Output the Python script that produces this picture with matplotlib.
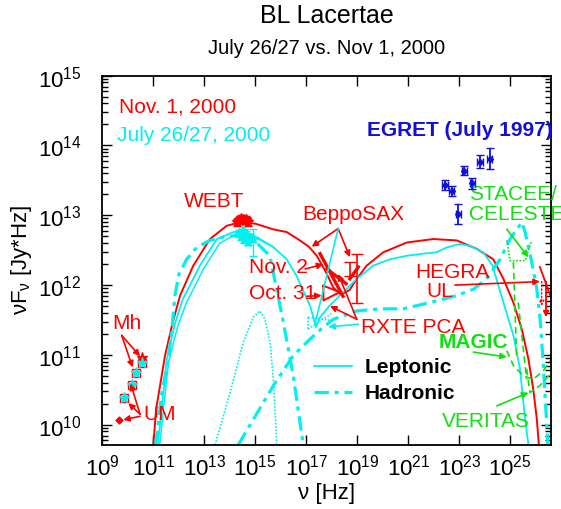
import numpy as np
import matplotlib
matplotlib.use('Agg')
import matplotlib.pyplot as plt
from matplotlib.ticker import FixedLocator, LogLocator, NullLocator, FuncFormatter, NullFormatter

plt.rcParams['font.family'] = ['Liberation Sans', 'DejaVu Sans']
plt.rcParams['mathtext.fontset'] = 'custom'
plt.rcParams['mathtext.rm'] = 'Liberation Sans'
plt.rcParams['mathtext.it'] = 'Liberation Sans:italic'
plt.rcParams['mathtext.bf'] = 'Liberation Sans:bold'

RED = '#ff0000'
CYAN = '#00f0f0'
BLUE = '#1010d8'
GREEN = '#10e010'

# ---------------- data (log10 nu [Hz], log10 nuFnu [Jy*Hz]) ----------------
# Nov 1, 2000 leptonic model (red solid)
red_lognu = [11.00, 11.11, 11.46, 11.75, 12.05, 12.57, 13.22, 13.88, 14.40, 15.00, 15.69, 16.23,
             16.75, 17.10, 17.41, 17.75, 18.05, 18.35, 18.70, 18.98, 19.37, 20.02, 20.94, 21.98,
             22.90, 23.68, 24.33, 24.73, 25.12, 25.45, 25.71, 25.90, 26.04, 26.12]
red_logf = [9.71, 10.22, 10.99, 11.45, 11.85, 12.28, 12.66, 12.85, 12.90, 12.88, 12.80, 12.76,
            12.64, 12.55, 12.42, 12.20, 11.97, 11.86, 11.93, 12.09, 12.28, 12.47, 12.61, 12.66,
            12.64, 12.52, 12.37, 12.09, 11.75, 11.37, 10.94, 10.51, 10.08, 9.71]

# July 26/27 leptonic model (cyan solid)
lep_lognu = [11.18, 11.53, 11.85, 12.16, 12.83, 13.49, 14.14, 14.66, 14.92, 15.69, 16.23, 16.62,
             17.15, 17.38, 17.54, 17.90, 18.32, 18.98, 19.63, 20.28, 20.94, 21.59, 22.11, 22.51,
             23.03, 23.42, 23.94, 24.30, 24.73, 25.12, 25.38, 25.58, 25.71]
lep_logf = [9.71, 10.94, 11.45, 11.80, 12.28, 12.66, 12.76, 12.76, 12.70, 12.55, 12.37, 12.13,
            11.70, 11.40, 11.54, 11.70, 11.85, 12.09, 12.28, 12.37, 12.42, 12.45, 12.47, 12.54,
            12.59, 12.56, 12.47, 12.28, 11.75, 11.28, 10.80, 10.08, 9.71]

# second leptonic synchrotron curve (cyan solid, close to the first)
lep2_lognu = [11.25, 11.60, 11.95, 12.30, 12.95, 13.60, 14.20, 14.70, 15.10, 15.69]
lep2_logf = [9.71, 10.90, 11.40, 11.75, 12.22, 12.60, 12.72, 12.74, 12.68, 12.55]

# July hadronic model: synchrotron part (cyan dash-dot)
had1_lognu = [11.09, 11.34, 11.60, 11.75, 11.85, 12.00, 12.31, 12.70, 13.22, 13.88, 14.40, 14.99,
              15.57, 16.10, 16.49, 16.88]
had1_logf = [9.71, 10.47, 10.95, 11.45, 11.85, 12.15, 12.37, 12.54, 12.64, 12.70, 12.71, 12.63,
             12.42, 11.47, 10.70, 9.71]

# July hadronic model: high-energy part (cyan dash-dot)
had2_lognu = [14.33, 15.71, 16.49, 17.41, 18.06, 18.98, 19.89, 20.80, 21.85, 22.90, 23.55, 24.07,
              24.60, 24.99, 25.45, 25.58, 25.84, 26.04, 26.17, 26.29, 26.40, 26.48]
had2_logf = [9.71, 10.56, 10.99, 11.32, 11.51, 11.63, 11.66, 11.66, 11.75, 11.85, 11.94, 12.09,
             12.37, 12.66, 12.90, 12.76, 12.33, 11.94, 11.51, 10.89, 10.18, 9.71]

# thermal component (cyan dotted)
th_lognu = [13.42, 14.01, 14.53, 14.92, 15.18, 15.38, 15.58, 15.72, 15.84]
th_logf = [9.71, 10.46, 11.18, 11.54, 11.63, 11.51, 11.18, 10.60, 9.71]

# WEBT optical data
webt_nov_lognu = [14.30, 14.38, 14.45, 14.52, 14.58, 14.65, 14.72]
webt_nov_logf = [12.90, 12.93, 12.96, 12.95, 12.92, 12.94, 12.90]
webt_jul_lognu = [14.35, 14.42, 14.50, 14.57, 14.64, 14.72, 14.80, 14.92]
webt_jul_logf = [12.74, 12.70, 12.78, 12.66, 12.72, 12.62, 12.68, 12.66]
webt_jul_errlo = [0.05, 0.05, 0.05, 0.05, 0.05, 0.05, 0.05, 0.24]
webt_jul_errhi = [0.05, 0.05, 0.05, 0.05, 0.05, 0.05, 0.05, 0.14]

# radio data (Metsahovi / UMRAO)
radio_nov_lognu = [10.55]
radio_nov_logf = [10.96]
radio_um_nov_lognu = [9.67]
radio_um_nov_logf = [10.07]
radio_jul_lognu = [10.55, 10.32, 10.15, 9.86]
radio_jul_logf = [10.88, 10.74, 10.57, 10.38]

# EGRET (July 1997)
egret_lognu = [22.44, 22.70, 22.96, 23.20, 23.51, 23.81, 24.20]
egret_logf = [13.43, 13.35, 13.02, 13.64, 13.46, 13.77, 13.81]
egret_err = [0.07, 0.07, 0.14, 0.06, 0.08, 0.09, 0.15]

# BeppoSAX high energy points (Nov)
sax_lognu = [18.71, 18.98]
sax_logf = [12.23, 12.10]
sax_err = [0.10, 0.35]

# X-ray spectra (segments)
sax_nov_spec = [([17.54, 18.44], [12.45, 11.84]), ([17.81, 18.56], [12.23, 12.02]),
                ([18.71, 19.04], [12.09, 12.26])]
rxte_oct_tri = ([17.67, 17.67, 18.32, 17.67], [11.99, 11.78, 11.90, 11.99])
xray_jul_spec = [([17.07, 18.05], [11.37, 11.61]), ([17.07, 18.05], [11.54, 11.49]),
                 ([17.07, 17.07], [11.37, 11.54])]

# HEGRA upper limit
hegra_line = ([26.16, 26.62], [12.26, 11.80])
hegra_dot_lognu = 26.23
hegra_dot_logf = (12.09, 11.66)
hegra_sol_lognu = 26.40
hegra_sol_logf = (12.09, 11.50)

# STACEE/CELESTE and sensitivities
stacee_lognu = [24.86, 24.99, 25.58, 25.84]
stacee_logf = [12.64, 12.35, 12.35, 12.64]
magic_lognu = [24.86, 25.12, 25.51, 25.90, 26.29, 26.62]
magic_logf = [11.06, 10.85, 10.70, 10.65, 10.77, 10.94]
veritas_lognu = [25.64, 25.77, 26.16, 26.62]
veritas_logf = [10.80, 10.46, 10.56, 10.75]
sens_vert = [([25.12, 25.25], [12.33, 10.94]), ([25.31, 25.64], [11.75, 10.65])]

# x tick exponents
xtick_exp = [9, 11, 13, 15, 17, 19, 21, 23, 25]


def P(a):
    return 10.0 ** np.asarray(a, dtype=float)


def yerr_log(logf, lo, hi):
    logf = np.asarray(logf, float)
    return [10 ** logf - 10 ** (logf - np.asarray(lo)), 10 ** (logf + np.asarray(hi)) - 10 ** logf]


fig = plt.figure(figsize=(5.61, 5.10), dpi=100)
ax = fig.add_axes([102.3 / 561, 1 - 446 / 510, 448.7 / 561, 369.3 / 510])
ax.set_xscale('log')
ax.set_yscale('log')
ax.set_xlim(1e9, 10 ** 26.596)
ax.set_ylim(10 ** 9.709, 1e15)

# ---------------- model curves ----------------
ax.plot(P(red_lognu), P(red_logf), color=RED, lw=1.4)
ax.plot(P(lep_lognu), P(lep_logf), color=CYAN, lw=1.3)
ax.plot(P(lep2_lognu), P(lep2_logf), color=CYAN, lw=1.1)
dd = (0, (4.5, 1.8, 1.3, 1.8))
ax.plot(P(had1_lognu), P(had1_logf), color=CYAN, lw=2.3, ls=dd)
ax.plot(P(had2_lognu), P(had2_logf), color=CYAN, lw=2.3, ls=dd)
ax.plot(P(th_lognu), P(th_logf), color=CYAN, lw=1.2, ls=(0, (1, 1)))

# ---------------- data ----------------
n = len(webt_nov_logf)
ax.errorbar(P(webt_nov_lognu), P(webt_nov_logf), yerr=yerr_log(webt_nov_logf, [0.05] * n, [0.05] * n),
            fmt='*', color=RED, ms=7, capsize=3, lw=1, zorder=5)
ax.errorbar(P(webt_jul_lognu), P(webt_jul_logf), yerr=yerr_log(webt_jul_logf, webt_jul_errlo, webt_jul_errhi),
            fmt='*', color=CYAN, ms=7, capsize=3, lw=1, zorder=5)

ax.plot(P(radio_jul_lognu), P(radio_jul_logf), 's', mfc='none', mec=RED, ms=6, mew=1, zorder=5)
ax.plot(P(radio_jul_lognu), P(radio_jul_logf), '*', color=CYAN, ms=8, zorder=6)
ax.plot(P(radio_nov_lognu), P(radio_nov_logf), '*', color=RED, ms=8, zorder=5)
ax.plot(P(radio_um_nov_lognu), P(radio_um_nov_logf), 'D', color=RED, ms=3.5, zorder=5)

ax.errorbar(P(egret_lognu), P(egret_logf), yerr=yerr_log(egret_logf, egret_err, egret_err),
            xerr=[P(egret_lognu) - P(np.array(egret_lognu) - 0.1), P(np.array(egret_lognu) + 0.1) - P(egret_lognu)],
            fmt='D', color=BLUE, ms=3, capsize=3, lw=1.3, zorder=5)

ax.errorbar(P(sax_lognu), P(sax_logf), yerr=yerr_log(sax_logf, sax_err, sax_err),
            fmt='none', ecolor=RED, capsize=4, lw=1.2, zorder=5)
for xs, ys in sax_nov_spec:
    ax.plot(P(xs), P(ys), color=RED, lw=2.4, zorder=5)
ax.plot(P(rxte_oct_tri[0]), P(rxte_oct_tri[1]), color=RED, lw=1.4, zorder=5)
for xs, ys in xray_jul_spec:
    ax.plot(P(xs), P(ys), color=CYAN, lw=1.2, ls=(0, (1, 1)), zorder=5)

ax.plot(P(hegra_line[0]), P(hegra_line[1]), color=RED, lw=1.3)
ax.annotate('', xy=(P(hegra_dot_lognu), P(hegra_dot_logf[1])), xytext=(P(hegra_dot_lognu), P(hegra_dot_logf[0])),
            arrowprops=dict(arrowstyle='-|>', color=RED, lw=1.0, ls=':', mutation_scale=8, fill=False))
ax.annotate('', xy=(P(hegra_sol_lognu), P(hegra_sol_logf[1])), xytext=(P(hegra_sol_lognu), P(hegra_sol_logf[0])),
            arrowprops=dict(arrowstyle='-|>', color=RED, lw=1.3, mutation_scale=8))

ax.plot(P(stacee_lognu), P(stacee_logf), color=GREEN, lw=1.2, ls=(0, (1, 1)))
ax.plot(P(magic_lognu), P(magic_logf), color=GREEN, lw=1.2, ls=(0, (4, 2.5)))
ax.plot(P(veritas_lognu), P(veritas_logf), color=GREEN, lw=1.2, ls=(0, (4, 2.5)))
for xs, ys in sens_vert:
    ax.plot(P(xs), P(ys), color=GREEN, lw=1.2, ls=(0, (4, 2.5)))

# ---------------- annotation arrows (start -> target, log coords) ----------------
def arrow(start, end, color, lw=1.2, head=True):
    ax.annotate('', xy=(P(end[0]), P(end[1])), xytext=(P(start[0]), P(start[1])),
                arrowprops=dict(arrowstyle='-|>' if head else '-', color=color, lw=lw,
                                mutation_scale=9, shrinkA=0, shrinkB=0), zorder=7)

red_arrows = [((9.76, 11.28), (10.48, 10.98)), ((9.76, 11.28), (10.19, 10.82)),
              ((10.48, 10.15), (10.11, 10.59)), ((10.48, 10.15), (10.02, 10.31)),
              ((10.48, 10.12), (9.82, 10.07)),
              ((18.25, 12.81), (17.21, 12.55)), ((18.25, 12.81), (18.71, 12.40)),
              ((16.95, 12.23), (17.67, 12.30)), ((17.02, 11.84), (17.60, 11.85)),
              ((18.98, 11.51), (17.93, 11.70)), ((18.98, 11.51), (18.25, 12.16)),
              ((22.83, 12.00), (26.16, 12.05))]
for s, e in red_arrows:
    arrow(s, e, RED)
arrow((19.04, 11.44), (17.86, 11.40), CYAN)
arrow((18.25, 12.81), (17.34, 11.44), CYAN, head=False)
green_arrows = [((24.86, 12.80), (25.71, 12.40)), ((23.55, 11.04), (24.86, 10.97)),
                ((24.47, 10.27), (25.71, 10.46))]
for s, e in green_arrows:
    arrow(s, e, GREEN)

# ---------------- labels ----------------
fs = 15
T = ax.transAxes
ax.text(0.037, 0.919, 'Nov. 1, 2000', color=RED, fontsize=fs, transform=T, va='center')
ax.text(0.032, 0.842, 'July 26/27, 2000', color=CYAN, fontsize=fs, transform=T, va='center')
ax.text(0.182, 0.662, 'WEBT', color=RED, fontsize=fs, transform=T, va='center')
ax.text(0.445, 0.626, 'BeppoSAX', color=RED, fontsize=fs, transform=T, va='center')
ax.text(0.589, 0.853, 'EGRET (July 1997)', color=BLUE, fontsize=fs, fontweight='bold', transform=T, va='center')
ax.text(0.817, 0.680, 'STACEE/', color=GREEN, fontsize=fs, transform=T, va='center')
ax.text(0.817, 0.626, 'CELESTE', color=GREEN, fontsize=fs, transform=T, va='center')
ax.text(0.327, 0.482, 'Nov. 2', color=RED, fontsize=fs, transform=T, va='center')
ax.text(0.327, 0.414, 'Oct. 31', color=RED, fontsize=fs, transform=T, va='center')
ax.text(0.023, 0.333, 'Mh', color=RED, fontsize=fs, transform=T, va='center')
ax.text(0.091, 0.084, 'UM', color=RED, fontsize=fs, transform=T, va='center')
ax.text(0.697, 0.471, 'HEGRA', color=RED, fontsize=fs, transform=T, va='center')
ax.text(0.723, 0.418, 'UL', color=RED, fontsize=fs, transform=T, va='center')
ax.text(0.576, 0.320, 'RXTE PCA', color=RED, fontsize=fs, transform=T, va='center')
ax.text(0.750, 0.280, 'MAGIC', color=GREEN, fontsize=fs, fontweight='bold', transform=T, va='center')
ax.text(0.756, 0.066, 'VERITAS', color=GREEN, fontsize=fs, transform=T, va='center')

# legend
ax.plot([0.472, 0.556], [0.213, 0.213], color=CYAN, lw=1.3, transform=T)
ax.plot([0.472, 0.556], [0.143, 0.143], color=CYAN, lw=2.3, ls=dd, transform=T)
ax.text(0.585, 0.213, 'Leptonic', color='black', fontsize=fs, fontweight='bold', transform=T, va='center')
ax.text(0.585, 0.143, 'Hadronic', color='black', fontsize=fs, fontweight='bold', transform=T, va='center')

# ---------------- axes styling ----------------
ax.xaxis.set_major_locator(FixedLocator([10.0 ** e for e in xtick_exp]))
ax.xaxis.set_minor_locator(NullLocator())
ax.xaxis.set_major_formatter(FuncFormatter(lambda v, p: r'$10^{%d}$' % round(np.log10(v))))
ax.yaxis.set_major_locator(LogLocator(base=10, numticks=20))
ax.yaxis.set_minor_locator(LogLocator(base=10, subs=np.arange(2, 10), numticks=20))
ax.yaxis.set_minor_formatter(NullFormatter())
ax.yaxis.set_major_formatter(FuncFormatter(lambda v, p: r'$10^{%d}$' % round(np.log10(v))))
ax.tick_params(which='both', direction='in', top=True, right=True, width=1.0, labelsize=16)
ax.tick_params(which='major', length=7)
ax.tick_params(which='minor', length=4)
ax.tick_params(axis='y', pad=15)
ax.tick_params(axis='x', pad=6)
for sp in ax.spines.values():
    sp.set_linewidth(1.3)

cx = (102.3 + 551) / 2 / 561
fig.text(cx, 1 - 16 / 510, 'BL Lacertae', ha='center', va='center', fontsize=18)
fig.text(cx, 1 - 49 / 510, 'July 26/27 vs. Nov 1, 2000', ha='center', va='center', fontsize=14.5)
fig.text(cx, 1 - 494 / 510, 'ν [Hz]', ha='center', va='center', fontsize=16)
fig.text(22 / 561, 1 - 260 / 510, r'νF$_\mathregular{ν}$ [Jy*Hz]', ha='center', va='center',
         rotation=90, fontsize=16)

fig.savefig('out.png', dpi=100)
